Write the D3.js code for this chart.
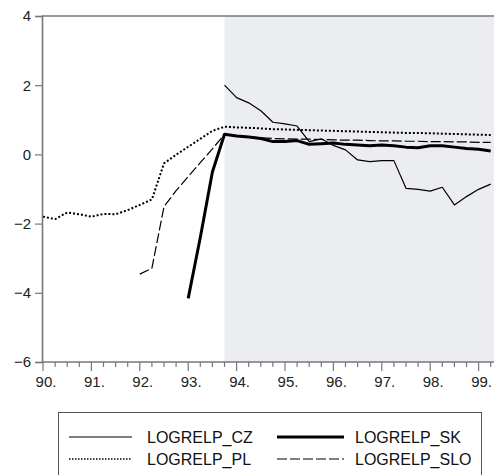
<!DOCTYPE html>
<html>
<head>
<meta charset="utf-8">
<script src="https://cdn.jsdelivr.net/npm/d3@7"></script>
<style>
    body { margin: 0; background: #fff; }
    svg { display: block; }
</style>
</head>
<body>
<svg id="chart"></svg>
<script>

// quarterly observations, 1990Q1 .. 1999Q2
const quarters = [
    90.00, 90.25, 90.50, 90.75, 91.00, 91.25, 91.50, 91.75,
    92.00, 92.25, 92.50, 92.75, 93.00, 93.25, 93.50, 93.75,
    94.00, 94.25, 94.50, 94.75, 95.00, 95.25, 95.50, 95.75,
    96.00, 96.25, 96.50, 96.75, 97.00, 97.25, 97.50, 97.75,
    98.00, 98.25, 98.50, 98.75, 99.00, 99.25
];

// each series starts at the given index of quarters
const plStart = 0;
const pl = [-1.80, -1.87, -1.68, -1.73, -1.80, -1.72, -1.73, -1.61,
            -1.46, -1.30, -0.26, -0.01, 0.22, 0.45, 0.68, 0.80,
            0.78, 0.77, 0.75, 0.73, 0.72, 0.71, 0.70, 0.69,
            0.68, 0.67, 0.66, 0.65, 0.64, 0.63, 0.62, 0.62,
            0.61, 0.60, 0.59, 0.58, 0.57, 0.56];

const sloStart = 8;
const slo = [-3.46, -3.29, -1.51, -1.05, -0.64, -0.24, 0.16, 0.58,
             0.54, 0.51, 0.48, 0.46, 0.45, 0.44, 0.44, 0.43,
             0.42, 0.41, 0.41, 0.40, 0.39, 0.39, 0.38, 0.38,
             0.37, 0.37, 0.36, 0.36, 0.35, 0.35];

const skStart = 12;
const sk = [-4.16, -2.40, -0.51, 0.58,
            0.53, 0.50, 0.46, 0.37, 0.37, 0.40, 0.29, 0.31,
            0.33, 0.29, 0.27, 0.25, 0.27, 0.25, 0.21, 0.19,
            0.25, 0.25, 0.21, 0.17, 0.15, 0.10];

const czStart = 15;
const cz = [2.00,
            1.64, 1.49, 1.26, 0.93, 0.88, 0.82, 0.37, 0.45,
            0.26, 0.13, -0.16, -0.21, -0.18, -0.18, -0.98, -1.01,
            -1.06, -0.95, -1.46, -1.22, -1.01, -0.86];

const yearTicks = [90, 91, 92, 93, 94, 95, 96, 97, 98, 99];
const yTicks = [4, 2, 0, -2, -4, -6];
const shadeFrom = 93.75;

const width = 494;
const height = 475;

const plotLeft = 42, plotTop = 16, plotBottom = 362;

const svg = d3.select("#chart")
    .attr("width", width)
    .attr("height", height);

const x = d3.scaleLinear().domain([90, 99.5]).range([43, 43 + 9.5 * 48.4]);
const y = d3.scaleLinear().domain([-6, 4]).range([plotBottom, plotTop]);

// shaded sample period
svg.append("rect")
    .attr("x", x(shadeFrom))
    .attr("y", plotTop)
    .attr("width", width - x(shadeFrom))
    .attr("height", plotBottom - plotTop)
    .attr("fill", "#ecedf0");

function toPoints(values, start)
{
    return values.map((v, i) => [quarters[start + i], v]);
}

const line = d3.line()
    .x(d => x(d[0]))
    .y(d => y(d[1]));

const series = [
    {name: "LOGRELP_CZ",  data: toPoints(cz, czStart),   width: 1.2, dash: null},
    {name: "LOGRELP_SK",  data: toPoints(sk, skStart),   width: 3,   dash: null},
    {name: "LOGRELP_PL",  data: toPoints(pl, plStart),   width: 2,   dash: "2,2"},
    {name: "LOGRELP_SLO", data: toPoints(slo, sloStart), width: 1.2, dash: "10,3"}
];

const plot = svg.append("g");

series.forEach(s => {
    plot.append("path")
        .attr("d", line(s.data))
        .attr("fill", "none")
        .attr("stroke", "#000")
        .attr("stroke-width", s.width)
        .attr("stroke-dasharray", s.dash)
        .attr("stroke-linejoin", "round");
});

// frame lines
const axisColor = "#777";

svg.append("line")
    .attr("x1", plotLeft).attr("x2", width)
    .attr("y1", plotTop).attr("y2", plotTop)
    .attr("stroke", axisColor).attr("stroke-width", 1.6);

svg.append("line")
    .attr("x1", plotLeft).attr("x2", width)
    .attr("y1", plotBottom).attr("y2", plotBottom)
    .attr("stroke", axisColor).attr("stroke-width", 1.6);

// y axis
const yAxis = d3.axisLeft(y)
    .tickValues(yTicks)
    .tickSize(7)
    .tickPadding(4)
    .tickFormat(d => d < 0 ? "\u2212" + Math.abs(d) : d);

const gy = svg.append("g")
    .attr("transform", `translate(${plotLeft},0)`)
    .call(yAxis);

gy.select(".domain").attr("stroke", axisColor).attr("stroke-width", 1.6);
gy.selectAll(".tick line").attr("stroke", axisColor).attr("stroke-width", 1.2);
gy.selectAll(".tick text")
    .attr("font-family", "Liberation Sans, Arial, sans-serif")
    .attr("font-size", 15)
    .attr("fill", "#222");

// x axis: quarterly minor ticks, yearly labels
const gx = svg.append("g").attr("transform", `translate(0,${plotBottom})`);

gx.selectAll(".minor")
    .data(quarters.concat([99.5]))
    .join("line")
    .attr("x1", d => x(d)).attr("x2", d => x(d))
    .attr("y1", 0)
    .attr("y2", d => Number.isInteger(d) ? 9 : 5)
    .attr("stroke", axisColor)
    .attr("stroke-width", 1.2);

gx.selectAll(".label")
    .data(yearTicks)
    .join("text")
    .attr("x", d => x(d) + 3)
    .attr("y", 25)
    .attr("text-anchor", "middle")
    .attr("font-family", "Liberation Sans, Arial, sans-serif")
    .attr("font-size", 15)
    .attr("fill", "#222")
    .text(d => d + ".");

// legend
const legend = svg.append("g");

legend.append("rect")
    .attr("x", 58.5)
    .attr("y", 412.5)
    .attr("width", 423)
    .attr("height", 80)
    .attr("fill", "#fff")
    .attr("stroke", "#555")
    .attr("stroke-width", 1);

const legendItems = [
    {s: series[0], lx: 69,  tx: 147, row: 0},
    {s: series[1], lx: 277, tx: 355, row: 0},
    {s: series[2], lx: 69,  tx: 147, row: 1},
    {s: series[3], lx: 277, tx: 355, row: 1}
];

legendItems.forEach(item => {
    const baseline = 443 + item.row * 22;

    legend.append("line")
        .attr("x1", item.lx)
        .attr("x2", item.lx + (item.lx < 100 ? 63 : 67))
        .attr("y1", baseline - 6)
        .attr("y2", baseline - 6)
        .attr("stroke", "#000")
        .attr("stroke-width", item.s.width === 2 ? 1.5 : item.s.width)
        .attr("stroke-dasharray", item.s.dash === "2,2" ? "1.5,1.5" : item.s.dash);

    legend.append("text")
        .attr("x", item.tx)
        .attr("y", baseline)
        .attr("font-family", "Liberation Sans, Arial, sans-serif")
        .attr("font-size", 16)
        .attr("fill", "#111")
        .text(item.s.name);
});

</script>
</body>
</html>
